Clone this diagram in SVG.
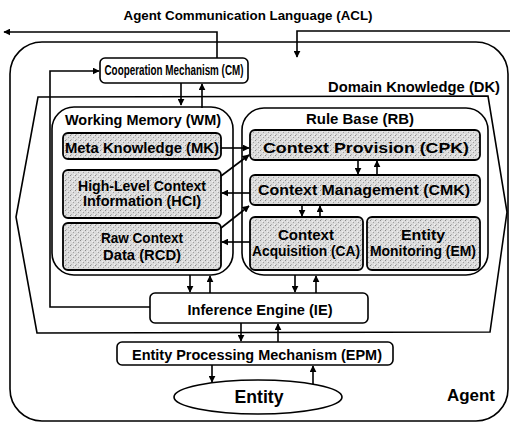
<svg xmlns="http://www.w3.org/2000/svg" width="510" height="424" viewBox="0 0 510 424">
<style>
text{font-family:"Liberation Sans",Arial,sans-serif;font-weight:bold;fill:#000;text-anchor:middle}
.t{font-size:13px}
.b{font-size:14px}
.plain{fill:#fff;stroke:#000;stroke-width:1.6}
.shade{fill:url(#stip);stroke:#000;stroke-width:1.8}
.frame{fill:none;stroke:#000;stroke-width:1.6}
.c{fill:none;stroke:#000;stroke-width:1.6}
</style>
<defs>
<pattern id="stip" width="5" height="5" patternUnits="userSpaceOnUse">
<rect width="5" height="5" fill="#dcdcdc"/>
<rect x="0" y="0" width="1" height="1" fill="#8c8c8c"/>
<rect x="3" y="2" width="1" height="1" fill="#a0a0a0"/>
<rect x="1" y="4" width="1" height="1" fill="#b4b4b4"/>
<rect x="4" y="4" width="1" height="1" fill="#f4f4f4"/>
<rect x="2" y="1" width="1" height="1" fill="#f0f0f0"/>
</pattern>
<marker id="ah" viewBox="0 0 10 10" refX="9" refY="5" markerWidth="7" markerHeight="7" markerUnits="userSpaceOnUse" orient="auto">
<path d="M0,0 L10,5 L0,10 z" fill="#000"/>
</marker>
</defs>

<text class="t" x="248" y="20" textLength="249" lengthAdjust="spacingAndGlyphs">Agent Communication Language (ACL)</text>

<g id="agent">
<rect class="frame" x="10" y="42" width="498" height="379" rx="32"/>
<text x="471" y="401" style="font-size:17px" textLength="48" lengthAdjust="spacingAndGlyphs">Agent</text>
</g>

<g id="dk">
<polygon class="frame" points="38,97 488,96 507,212 490,332 37,333 16,217"/>
<text class="b" x="414" y="92" textLength="172" lengthAdjust="spacingAndGlyphs">Domain Knowledge (DK)</text>
</g>

<g id="cm">
<rect class="plain" x="100" y="58" width="148" height="25" rx="5"/>
<text class="b" x="174" y="75" textLength="139" lengthAdjust="spacingAndGlyphs">Cooperation Mechanism (CM)</text>
</g>

<g id="wm">
<rect class="plain" x="52" y="107" width="181" height="168" rx="22"/>
<text class="b" x="143" y="125" textLength="156" lengthAdjust="spacingAndGlyphs">Working Memory (WM)</text>
</g>

<g id="mk">
<rect class="shade" x="63" y="133" width="158" height="26" rx="5"/>
<text class="b" x="142" y="153" textLength="154" lengthAdjust="spacingAndGlyphs">Meta Knowledge (MK)</text>
</g>

<g id="hci">
<rect class="shade" x="63" y="170" width="158" height="48" rx="5"/>
<text class="b" x="142" y="191" textLength="128" lengthAdjust="spacingAndGlyphs">High-Level Context</text>
<text class="b" x="142" y="206" textLength="118" lengthAdjust="spacingAndGlyphs">Information (HCI)</text>
</g>

<g id="rcd">
<rect class="shade" x="63" y="223" width="158" height="47" rx="5"/>
<text class="b" x="142" y="243" textLength="82" lengthAdjust="spacingAndGlyphs">Raw Context</text>
<text class="b" x="142" y="260" textLength="78" lengthAdjust="spacingAndGlyphs">Data (RCD)</text>
</g>

<g id="rb">
<rect class="plain" x="242" y="108" width="246" height="167" rx="22"/>
<text class="b" x="360" y="124" textLength="108" lengthAdjust="spacingAndGlyphs">Rule Base (RB)</text>
</g>

<g id="cpk">
<rect class="shade" x="250" y="130" width="230" height="30" rx="5"/>
<text class="b" x="366" y="153" textLength="206" lengthAdjust="spacingAndGlyphs">Context Provision (CPK)</text>
</g>

<g id="cmk">
<rect class="shade" x="250" y="175" width="230" height="30" rx="5"/>
<text class="b" x="364" y="195" textLength="212" lengthAdjust="spacingAndGlyphs">Context Management (CMK)</text>
</g>

<g id="ca">
<rect class="shade" x="250" y="217" width="113" height="53" rx="5"/>
<text class="b" x="306" y="240" textLength="56" lengthAdjust="spacingAndGlyphs">Context</text>
<text class="b" x="306" y="256" textLength="108" lengthAdjust="spacingAndGlyphs">Acquisition (CA)</text>
</g>

<g id="em">
<rect class="shade" x="367" y="217" width="113" height="53" rx="5"/>
<text class="b" x="423" y="240" textLength="44" lengthAdjust="spacingAndGlyphs">Entity</text>
<text class="b" x="423" y="256" textLength="106" lengthAdjust="spacingAndGlyphs">Monitoring (EM)</text>
</g>

<g id="ie">
<rect class="plain" x="150" y="293" width="218" height="30" rx="5"/>
<text class="b" x="260" y="315" textLength="145" lengthAdjust="spacingAndGlyphs">Inference Engine (IE)</text>
</g>

<g id="epm">
<rect class="plain" x="117" y="342" width="276" height="23" rx="5"/>
<text class="b" x="257" y="360" textLength="250" lengthAdjust="spacingAndGlyphs">Entity Processing Mechanism (EPM)</text>
</g>

<g id="entity">
<ellipse class="plain" cx="258" cy="397" rx="84" ry="17"/>
<text x="259" y="403" style="font-size:18px" textLength="49" lengthAdjust="spacingAndGlyphs">Entity</text>
</g>

<g id="connectors">
<polyline class="c" points="217,58 217,32 4,32" marker-end="url(#ah)"/>
<polyline class="c" points="510,31 297,31 297,57" marker-end="url(#ah)"/>
<polyline class="c" points="150,307 50,307 50,71 99,71" marker-end="url(#ah)"/>
<line class="c" x1="181" y1="83" x2="181" y2="105" marker-end="url(#ah)"/>
<line class="c" x1="202" y1="108" x2="202" y2="84" marker-end="url(#ah)"/>
<line class="c" x1="221" y1="148" x2="249" y2="148" marker-end="url(#ah)"/>
<line class="c" x1="221" y1="176" x2="249" y2="155" marker-end="url(#ah)"/>
<line class="c" x1="250" y1="193" x2="222" y2="193" marker-end="url(#ah)"/>
<line class="c" x1="221" y1="228" x2="249" y2="206" marker-end="url(#ah)"/>
<line class="c" x1="250" y1="242" x2="222" y2="242" marker-end="url(#ah)"/>
<line class="c" x1="358" y1="160" x2="358" y2="174" marker-end="url(#ah)"/>
<line class="c" x1="377" y1="175" x2="377" y2="161" marker-end="url(#ah)"/>
<line class="c" x1="302" y1="205" x2="302" y2="216" marker-end="url(#ah)"/>
<line class="c" x1="320" y1="217" x2="320" y2="206" marker-end="url(#ah)"/>
<line class="c" x1="190" y1="275" x2="190" y2="292" marker-end="url(#ah)"/>
<line class="c" x1="210" y1="293" x2="210" y2="276" marker-end="url(#ah)"/>
<line class="c" x1="295" y1="275" x2="295" y2="292" marker-end="url(#ah)"/>
<line class="c" x1="316" y1="293" x2="316" y2="276" marker-end="url(#ah)"/>
<line class="c" x1="241" y1="323" x2="241" y2="341" marker-end="url(#ah)"/>
<line class="c" x1="278" y1="342" x2="278" y2="324" marker-end="url(#ah)"/>
<line class="c" x1="212" y1="365" x2="212" y2="382" marker-end="url(#ah)"/>
<line class="c" x1="313" y1="384" x2="313" y2="366" marker-end="url(#ah)"/>
</g>
</svg>
